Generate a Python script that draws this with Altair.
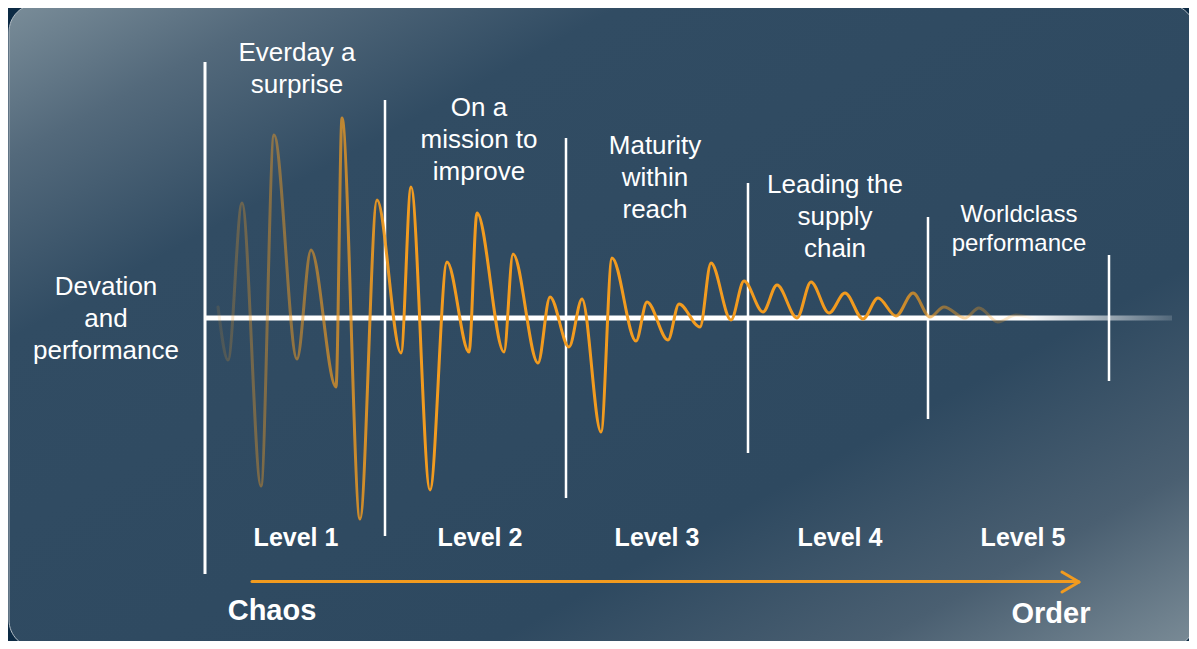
import altair as alt
import pandas as pd

# ---------------- data ----------------
# wave: x position (progress units) and deviation from the baseline (+ up)
wave_x = [218, 228, 242, 261, 274, 297, 311, 336, 342, 360, 377, 401, 411, 430,
          447, 469, 477, 504, 513, 538, 550, 569, 582, 601, 612, 636, 647, 668,
          679, 700, 711, 731, 744, 763, 777, 797, 811, 829, 845, 863, 878, 896,
          913, 930, 944, 965, 979, 998, 1016, 1035]
wave_dev = [11, -42, 115, -168, 183, -41, 68, -69, 200, -201, 118, -35, 131, -172,
            56, -34, 105, -34, 64, -45, 21, -29, 19, -114, 60, -23, 16, -22,
            14, -9, 55, -2, 37, 6, 33, 0, 36, 5, 25, -1, 20, 2,
            25, 1, 11, 0, 10, -4, 3, -1]

# level boundaries and their half-heights
bound_x = [205, 385, 566, 748, 928, 1109]
bound_half = [256, 218, 180, 135, 101, 63]
bound_w = [3, 2.5, 2.5, 2.5, 2.5, 2.5]

titles = ["Everday a\nsurprise", "On a\nmission to\nimprove", "Maturity\nwithin\nreach",
          "Leading the\nsupply\nchain"]
title_x = [297, 479, 655, 835]
title_y = [257, 202, 164, 125]          # first-line baseline (deviation units)

wc_title = ["Worldclass\nperformance"]
wc_x = [1019]
wc_y = [96]

side_label = ["Devation\nand\nperformance"]
side_x = [106]
side_y = [23]

levels = ["Level 1", "Level 2", "Level 3", "Level 4", "Level 5"]
level_x = [296, 480, 657, 840, 1023]
level_y = -228

ends = ["Chaos", "Order"]
ends_x = [272, 1051]
ends_y = [-302, -305]

# arrow Chaos -> Order
arrow_x = [252, 1062, 1062]
arrow_x2 = [1078, 1079, 1079]
arrow_y = [-263.5, -254, -274]
arrow_y2 = [-263.5, -264, -264]

ORANGE = "242,155,31"
FONT = "Liberation Sans"

# ---------------- scales ----------------
xs = alt.Scale(domain=[8, 1189], nice=False, zero=False)
ys = alt.Scale(domain=[-323, 310], nice=False, zero=False)


def X(f):
    return alt.X(f, type="quantitative", scale=xs, axis=None)


def X2(f):
    return alt.X2(f)


def Y(f):
    return alt.Y(f, type="quantitative", scale=ys, axis=None)


one = pd.DataFrame({"a": [0]})

# ---------------- background panel ----------------
bg_grad = alt.Gradient(
    gradient="linear", x1=0, y1=0, x2=1, y2=1,
    stops=[
        alt.GradientStop(color="#7a8d99", offset=0),
        alt.GradientStop(color="#53697b", offset=0.12),
        alt.GradientStop(color="#314c63", offset=0.26),
        alt.GradientStop(color="#2e4960", offset=0.7),
        alt.GradientStop(color="#4a5f71", offset=0.86),
        alt.GradientStop(color="#7b8c97", offset=1),
    ],
)
bg = alt.Chart(one).mark_rect(
    cornerRadius=28, fill=bg_grad, stroke="#b4bec6", strokeWidth=1
).encode(x=alt.value(1), x2=alt.value(1187), y=alt.value(-4), y2=alt.value(640))

# ---------------- boundaries ----------------
bdf = pd.DataFrame({"x": bound_x, "top": bound_half,
                    "bot": [-h for h in bound_half], "w": bound_w})
bounds = alt.Chart(bdf).mark_rule(color="white").encode(
    x=X("x"), y=Y("top"), y2=alt.Y2("bot"), size=alt.Size("w:Q", scale=None)
)

# ---------------- baseline ----------------
base_grad = alt.Gradient(
    gradient="linear", x1=0, y1=0, x2=1, y2=0,
    stops=[
        alt.GradientStop(color="rgba(255,255,255,1)", offset=0),
        alt.GradientStop(color="rgba(255,255,255,1)", offset=0.85),
        alt.GradientStop(color="rgba(255,255,255,0.55)", offset=0.93),
        alt.GradientStop(color="rgba(255,255,255,0.15)", offset=1),
    ],
)
basedf = pd.DataFrame({"x": [205], "x2": [1172], "y": [2.6], "y2": [-2.6]})
baseline = alt.Chart(basedf).mark_rect(fill=base_grad).encode(
    x=X("x"), x2=X2("x2"), y=Y("y"), y2=alt.Y2("y2")
)

# ---------------- wave ----------------
x0, x1 = min(wave_x), max(wave_x)


def off(v):
    return (v - x0) / (x1 - x0)


wave_stops = [(218, 0.12), (242, 0.3), (274, 0.45), (311, 0.55), (342, 0.72),
              (377, 0.9), (405, 1.0), (885, 1.0), (913, 0.72), (944, 0.5),
              (980, 0.33), (1016, 0.2), (1035, 0.0)]
wave_grad = alt.Gradient(
    gradient="linear", x1=0, y1=0, x2=1, y2=0,
    stops=[alt.GradientStop(color=f"rgba({ORANGE},{a})", offset=round(off(v), 4))
           for v, a in wave_stops],
)
wdf = pd.DataFrame({"x": wave_x, "dev": wave_dev})
wave = alt.Chart(wdf).mark_line(
    interpolate="monotone", stroke=wave_grad, strokeWidth=3, strokeCap="round"
).encode(x=X("x"), y=Y("dev"))

# ---------------- texts ----------------
tdf = pd.DataFrame({"x": title_x, "y": title_y, "t": titles})
title_layer = alt.Chart(tdf).mark_text(
    lineBreak="\n", lineHeight=32, fontSize=26, font=FONT, color="white",
    align="center", baseline="alphabetic"
).encode(x=X("x"), y=Y("y"), text="t:N")

wdf2 = pd.DataFrame({"x": wc_x, "y": wc_y, "t": wc_title})
wc_layer = alt.Chart(wdf2).mark_text(
    lineBreak="\n", lineHeight=28.5, fontSize=24, font=FONT, color="white",
    align="center", baseline="alphabetic"
).encode(x=X("x"), y=Y("y"), text="t:N")

sdf = pd.DataFrame({"x": side_x, "y": side_y, "t": side_label})
side_layer = alt.Chart(sdf).mark_text(
    lineBreak="\n", lineHeight=32, fontSize=26, font=FONT, color="white",
    align="center", baseline="alphabetic"
).encode(x=X("x"), y=Y("y"), text="t:N")

ldf = pd.DataFrame({"x": level_x, "y": [level_y] * len(levels), "t": levels})
level_layer = alt.Chart(ldf).mark_text(
    fontSize=25, font=FONT, fontWeight="bold", color="white",
    align="center", baseline="alphabetic"
).encode(x=X("x"), y=Y("y"), text="t:N")

edf = pd.DataFrame({"x": ends_x, "y": ends_y, "t": ends})
ends_layer = alt.Chart(edf).mark_text(
    fontSize=29, font=FONT, fontWeight="bold", color="white",
    align="center", baseline="alphabetic"
).encode(x=X("x"), y=Y("y"), text="t:N")

adf = pd.DataFrame({"x": arrow_x, "x2": arrow_x2, "y": arrow_y, "y2": arrow_y2})
arrow = alt.Chart(adf).mark_rule(
    color=f"rgb({ORANGE})", strokeWidth=3, strokeCap="round"
).encode(x=X("x"), x2=X2("x2"), y=Y("y"), y2=alt.Y2("y2"))

chart = alt.layer(
    bg, bounds, baseline, wave, title_layer, wc_layer, side_layer,
    level_layer, ends_layer, arrow
).properties(
    width=1181, height=633, background="#0c2a44", padding=0,
    autosize=alt.AutoSizeParams(type="none"),
).configure_view(stroke=None)

chart.save("out.html", embed_options={"renderer": "svg", "actions": False})
